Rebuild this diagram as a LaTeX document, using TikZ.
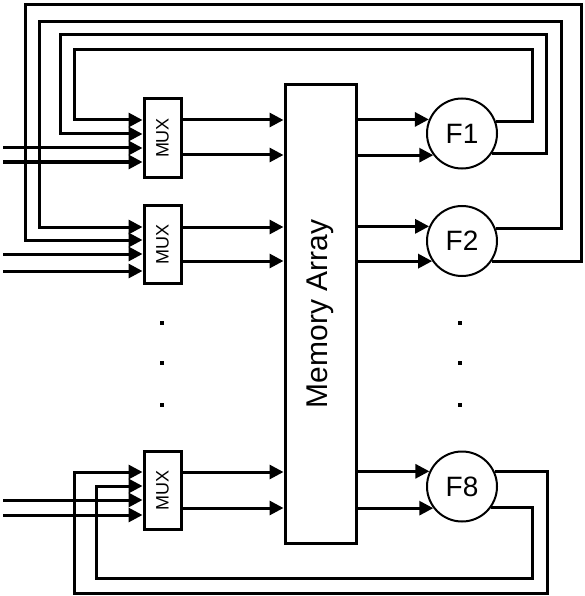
\documentclass[tikz,border=0pt]{standalone}
\usepackage{fontspec}
\setmainfont{Liberation Sans}
\usepackage{graphicx}
\usetikzlibrary{arrows.meta}
\begin{document}
\begin{tikzpicture}[x=1pt,y=-1pt,
  wire/.style={line width=3pt},
  arr/.style={wire,-{Triangle[length=14pt,width=14pt]}},
  muxbox/.style={draw,line width=3pt,minimum width=37pt,minimum height=78pt,inner sep=0pt,font=\fontsize{18}{20}\selectfont},
  membox/.style={draw,line width=3pt,minimum width=71pt,minimum height=458pt,inner sep=0pt,font=\fontsize{30}{32}\selectfont},
  fn/.style={draw,circle,line width=2pt,minimum size=70pt,inner sep=0pt,font=\fontsize{28}{30}\selectfont},
  dotsq/.style={fill=black,minimum size=4.5pt,inner sep=0pt}]
\useasboundingbox (0,0) rectangle (585,596);

% nodes
\node[membox] (mem) at (320.5,314) {\rotatebox{90}{Memory Array}};
\node[muxbox] (mux1) at (162.5,138) {\rotatebox{90}{MUX}};
\node[muxbox] (mux2) at (162.5,244) {\rotatebox{90}{MUX}};
\node[muxbox] (mux3) at (162.5,490) {\rotatebox{90}{MUX}};
\node[fn] (F1) at (462,133.5) {F1};
\node[fn] (F2) at (462,241) {F2};
\node[fn] (F8) at (462,486.5) {F8};

% dots
\node[dotsq] (dl1) at (162,323) {};
\node[dotsq] (dl2) at (162,363) {};
\node[dotsq] (dl3) at (162,405) {};
\node[dotsq] (dr1) at (460,323) {};
\node[dotsq] (dr2) at (460,363) {};
\node[dotsq] (dr3) at (460,405) {};

% external inputs
\coordinate (i1a) at (3,148);
\coordinate (i1b) at (3,162);
\coordinate (i2a) at (3,254);
\coordinate (i2b) at (3,271);
\coordinate (i3a) at (3,500);
\coordinate (i3b) at (3,515);
\draw[arr] (i1a) -- (mux1.west |- i1a);
\draw[arr] (i1b) -- (mux1.west |- i1b);
\draw[arr] (i2a) -- (mux2.west |- i2a);
\draw[arr] (i2b) -- (mux2.west |- i2b);
\draw[arr] (i3a) -- (mux3.west |- i3a);
\draw[arr] (i3b) -- (mux3.west |- i3b);

% mux to memory
\draw[arr] (mux1.east |- 0,120) -- (mem.west |- 0,120);
\draw[arr] (mux1.east |- 0,155) -- (mem.west |- 0,155);
\draw[arr] (mux2.east |- 0,227) -- (mem.west |- 0,227);
\draw[arr] (mux2.east |- 0,261) -- (mem.west |- 0,261);
\draw[arr] (mux3.east |- 0,472) -- (mem.west |- 0,472);
\draw[arr] (mux3.east |- 0,508) -- (mem.west |- 0,508);

% memory to functions
\draw[arr] (mem.east |- F1.157.3) -- (F1.157.3);
\draw[arr] (mem.east |- F1.217.9) -- (F1.217.9);
\draw[arr] (mem.east |- F2.156.4) -- (F2.156.4);
\draw[arr] (mem.east |- F2.214.8) -- (F2.214.8);
\draw[arr] (mem.east |- F8.155.5) -- (F8.155.5);
\draw[arr] (mem.east |- F8.217.9) -- (F8.217.9);

% feedback loops
\draw[arr] (F1.19.2) -| (532,50) -| (74,120) -- (mux1.west |- 0,120);
\draw[arr] (F1.-33.9) -| (546,35) -| (60,134) -- (mux1.west |- 0,134);
\draw[arr] (F2.20) -| (561,22) -| (39,227) -- (mux2.west |- 0,227);
\draw[arr] (F2.-34.8) -| (581,5) -| (25,240) -- (mux2.west |- 0,240);
\draw[arr] (F8.24.5) -| (547,593) -| (74,472) -- (mux3.west |- 0,472);
\draw[arr] (F8.-35.8) -| (532,578) -| (96,486) -- (mux3.west |- 0,486);
\end{tikzpicture}
\end{document}
